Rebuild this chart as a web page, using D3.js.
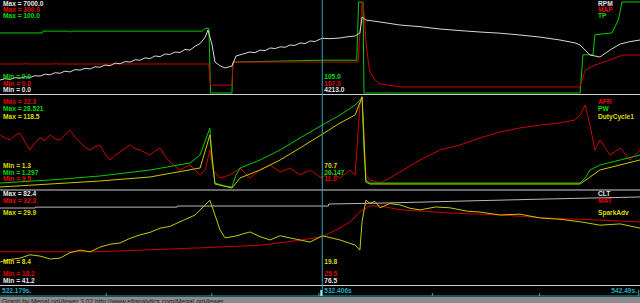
<!DOCTYPE html>
<html><head><meta charset="utf-8">
<script src="https://cdn.jsdelivr.net/npm/d3@7"></script>
<style>html,body{margin:0;padding:0;background:#000;overflow:hidden}</style>
</head><body><svg id="c" width="640" height="303"></svg>
<script>
// ---- time axis ----
const tStart = 522.179, tEnd = 542.49, tCursor = 532.406;
const timeLabels = ["522.179s.", "532.406s", "542.49s."];
const tickTimes = [525.55, 528.9, 532.3, 535.9, 539.3, 542.45];

// ---- top panel: RPM, MAP, TP ----
const rpm = [[522.18,1000],[522.34,1100],[522.50,1050],[522.66,1180],[522.81,1130],[522.97,1250],[523.13,1200],[523.29,1330],[523.45,1300],[523.61,1450],[523.77,1400],[523.93,1560],[524.08,1520],[524.24,1680],[524.40,1620],[524.56,1800],[524.72,1760],[524.88,1900],[525.04,1850],[525.20,2020],[525.35,1980],[525.51,2150],[525.67,2100],[525.83,2300],[525.99,2250],[526.15,2420],[526.31,2380],[526.47,2560],[526.62,2520],[526.78,2700],[526.94,2650],[527.10,2850],[527.26,2800],[527.42,3000],[527.57,2960],[527.73,3150],[527.89,3120],[528.05,3350],[528.21,3300],[528.37,3600],[528.53,3800],[528.69,4300],[528.78,4846],[528.91,3692],[529.00,2385],[529.16,2100],[529.32,1923],[529.54,2077],[529.67,2846],[530.11,3154],[530.27,3100],[530.43,3300],[530.59,3260],[530.75,3462],[530.91,3420],[531.07,3550],[531.23,3520],[531.38,3692],[531.54,3660],[531.70,3850],[531.86,3800],[532.02,4000],[532.18,3960],[532.34,4150],[532.41,4213],[532.65,4180],[532.97,4231],[533.13,4300],[533.45,4385],[533.60,4615],[533.67,5846],[533.79,5615],[534.24,5462],[534.87,5231],[535.51,5100],[536.14,4923],[536.78,4800],[537.41,4692],[538.05,4600],[538.68,4462],[539.32,4300],[539.95,4077],[540.43,3850],[540.59,3692],[540.90,2923],[541.22,2769],[541.54,3308],[541.86,3769],[542.17,3950],[542.49,4077]];
const map = [[522.18,95.6],[522.95,95.6],[523.00,99],[523.05,95.6],[523.90,95.6],[523.95,99],[524.00,95.6],[528.80,95.6],[528.86,26],[529.54,26],[529.57,102],[533.54,102],[533.67,300],[533.73,267],[533.79,175],[533.86,109],[533.92,69],[534.08,43],[534.24,30],[534.87,20],[540.59,20],[540.75,76],[541.06,92],[541.54,109],[541.92,125],[542.49,125]];
const tp = [[522.18,66],[523.52,66],[523.54,68],[524.35,68],[524.40,67],[524.45,68],[528.60,68],[528.69,71],[528.81,71],[528.86,0],[529.54,0],[529.57,34],[532.34,36],[533.50,36],[533.56,100],[533.70,100],[533.73,0],[540.59,0],[540.68,42],[541.00,42],[541.06,64],[541.60,66],[541.80,80],[541.92,100],[542.49,100]];

// ---- middle panel: AFR, PW, DutyCycle1 ----
const afr = [[522.18,16.96],[522.34,16.5],[522.50,16.25],[522.66,16.9],[522.81,17.24],[522.97,16.0],[523.13,14.85],[523.29,15.9],[523.45,16.54],[523.61,16.2],[523.77,16.96],[523.93,16.4],[524.08,16.25],[524.24,17.0],[524.40,17.66],[524.56,16.6],[524.72,15.97],[524.88,15.2],[525.04,14.85],[525.20,15.3],[525.35,15.55],[525.51,14.3],[525.67,13.44],[525.83,14.1],[525.99,14.57],[526.15,15.1],[526.31,15.55],[526.47,15.0],[526.62,14.85],[526.78,14.5],[526.94,14.14],[527.10,14.7],[527.26,15.13],[527.42,14.0],[527.57,13.16],[527.73,12.6],[527.89,12.03],[528.05,12.4],[528.21,12.74],[528.37,12.0],[528.53,11.33],[528.69,12.03],[528.84,14.85],[528.94,12.03],[529.16,10.91],[529.48,11.33],[529.80,12.31],[530.11,10.91],[530.43,12.03],[530.75,12.74],[531.07,11.75],[531.38,12.31],[531.70,11.33],[532.02,12.03],[532.34,11.05],[532.41,11.0],[532.65,11.75],[532.97,10.91],[533.29,12.03],[533.45,11.33],[533.60,21.18],[533.67,22.44],[533.79,11.33],[533.92,10.63],[534.24,10.20],[534.55,10.91],[534.87,11.75],[535.51,13.44],[536.14,14.85],[536.78,15.55],[537.41,16.54],[538.05,17.38],[538.68,17.94],[539.32,18.36],[539.95,18.65],[540.43,19.07],[540.59,19.77],[540.75,21.18],[540.90,18.36],[541.06,14.85],[541.22,16.25],[541.54,14.14],[541.86,15.13],[542.17,13.44],[542.49,14.85]];
const pw = [[522.18,2.79],[523.77,3.69],[525.35,4.89],[526.94,6.68],[528.21,8.78],[528.53,11.17],[528.84,19.25],[528.91,9.67],[529.00,2.79],[529.32,1.89],[529.54,1.60],[529.67,5.19],[529.80,7.28],[530.43,9.67],[531.07,12.67],[531.70,16.26],[532.41,20.147],[532.97,23.14],[533.45,26.13],[533.60,27.63],[533.67,28.52],[533.73,12.67],[533.79,3.69],[533.92,2.79],[540.59,2.79],[540.75,4.3],[540.90,6.68],[541.22,8.18],[541.86,9.67],[542.49,11.17]];
const duty = [[522.18,2.59],[523.77,6.45],[525.35,10.3],[526.94,15.5],[528.53,27.1],[528.84,69.6],[529.00,6.45],[529.54,1.3],[529.80,14.2],[530.43,24.5],[531.07,37.4],[531.70,52.8],[532.41,70.7],[532.97,85.0],[533.45,95.3],[533.67,118.5],[533.79,9.0],[533.92,6.45],[540.59,6.45],[541.22,24.5],[542.49,37.4]];

// ---- bottom panel: CLT, MAT, SparkAdv ----
const clt = [[522.18,75.6],[523.30,75.6],[523.31,76.0],[527.80,76.0],[527.81,76.5],[532.60,76.5],[532.61,77.4],[534.50,77.9],[537.00,78.8],[539.60,79.7],[542.49,80.6]];
const mat = [[522.18,23.2],[525.35,23.2],[528.53,23.8],[530.43,24.2],[531.70,25.0],[532.41,25.5],[532.97,26.9],[533.29,27.8],[533.60,29.4],[533.92,30.3],[534.24,30.3],[534.87,29.7],[536.46,29.2],[538.05,28.9],[539.63,28.4],[541.22,28.1],[542.49,27.8]];
const spark = [[522.18,13.6],[522.50,14.2],[522.81,14.5],[523.13,15.3],[523.45,15.0],[523.77,14.3],[524.08,14.5],[524.40,15.8],[524.72,16.4],[525.04,16.0],[525.35,17.1],[525.67,17.8],[525.99,18.1],[526.31,19.2],[526.62,20.0],[526.94,20.6],[527.26,21.6],[527.57,22.0],[527.89,23.1],[528.37,24.7],[528.69,27.1],[528.84,28.2],[529.00,24.7],[529.16,21.2],[529.32,19.3],[529.64,19.7],[530.11,20.7],[530.43,19.6],[530.75,18.8],[531.07,19.8],[531.38,19.3],[532.02,18.3],[532.41,19.8],[532.97,18.8],[533.45,17.6],[533.60,16.4],[533.67,23.1],[533.79,28.2],[533.92,27.5],[534.08,27.9],[534.24,26.4],[534.55,27.4],[534.87,27.1],[535.19,26.3],[535.51,25.9],[536.00,26.6],[536.46,26.4],[537.00,25.6],[537.41,25.4],[538.05,24.7],[538.68,24.9],[539.32,24.0],[539.95,23.7],[540.59,23.1],[541.22,22.3],[541.86,22.6],[542.49,21.6]];

// ---- labels ----
const topNames = ["RPM","MAP","TP"], topMax = ["7000.0","300.0","100.0"], topMin = ["0.0","0.0","0.0"], topCur = ["105.0","107.0","4213.0"];
const midNames = ["AFR","PW","DutyCycle1"], midMax = ["22.3","28.521","118.5"], midMin = ["1.3","1.297","9.5"], midCur = ["70.7","20.147","11.0"];
const botNames = ["CLT","MAT","SparkAdv"], botMax = ["82.4","32.3","29.9"], botMin = ["8.4","18.2","41.2"], botCur = ["19.8","25.5","76.5"];
const footer = "Graph by MegaLogViewer 3.02 http://www.efianalytics.com/MegaLogViewer";

const C = {white:"#d8d8d8", red:"#cc0000", green:"#00cc00", yellow:"#c8c800", redT:"#e00000", greenT:"#00dd00", yellowT:"#dddd00", whiteT:"#e8e8e8", cyan:"#2aa9bb"};

const svg = d3.select("#c");
svg.append("rect").attr("width",640).attr("height",303).attr("fill","#000");
const x = d3.scaleLinear().domain([tStart,tEnd]).range([0,640]);

const panels = [
  {y0:2, y1:93, clip:[0,94], series:[
    {d:tp, dom:[0,100], c:C.green},{d:map, dom:[0,300], c:C.red},{d:rpm, dom:[0,7000], c:C.white}]},
  {y0:97, y1:188, clip:[95,190], series:[
    {d:afr, dom:[9.5,22.3], c:C.red},{d:pw, dom:[1.297,28.521], c:C.green},{d:duty, dom:[1.3,118.5], c:C.yellow}]},
  {y0:193, y1:284, clip:[191,285], series:[
    {d:clt, dom:[41.2,82.4], c:"#b8b8b8"},{d:mat, dom:[18.2,32.3], c:C.red},{d:spark, dom:[8.4,29.9], c:C.yellow}]}
];
const defs = svg.append("defs");
panels.forEach((p,i)=>{
  defs.append("clipPath").attr("id","cp"+i).append("rect").attr("x",0).attr("y",p.clip[0]).attr("width",640).attr("height",p.clip[1]-p.clip[0]);
  const g = svg.append("g").attr("clip-path","url(#cp"+i+")");
  p.series.forEach(s=>{
    const y = d3.scaleLinear().domain(s.dom).range([p.y1,p.y0]);
    const line = d3.line().x(d=>x(d[0])).y(d=>y(d[1]));
    g.append("path").attr("d",line(s.d)).attr("fill","none").attr("stroke",s.c).attr("stroke-width",1);
  });
});

// separators
[94.5,190,285.5].forEach(yy=>svg.append("line").attr("x1",0).attr("x2",640).attr("y1",yy).attr("y2",yy).attr("stroke","#d0d0d0").attr("stroke-width",1.2));

// cursor
const xc = x(tCursor);
svg.append("line").attr("x1",xc).attr("x2",xc).attr("y1",0).attr("y2",296).attr("stroke",C.cyan).attr("stroke-width",1);

// text
const font = "'Liberation Sans', Arial, sans-serif";
function txt(s, xx, yy, col, anchor){
  svg.append("text").attr("x",xx).attr("y",yy).attr("fill",col).attr("font-family",font).attr("font-size",6.6).attr("font-weight","bold").attr("text-anchor",anchor||"start").text(s);
}
const topCols=[C.whiteT,C.redT,C.greenT], midCols=[C.redT,C.greenT,C.yellowT], botCols=[C.whiteT,C.redT,C.yellowT];
const topRows=[6.4,12.4,18.4], topMinRows=[79,85.6,92.2];
topNames.forEach((n,i)=>{ txt("Max = "+topMax[i],3,topRows[i],topCols[i]); txt(n,598,topRows[i],topCols[i]); });
[2,1,0].forEach((k,j)=>{ txt("Min = "+topMin[k],3,topMinRows[j],topCols[k]); });
[[topCur[0],C.greenT],[topCur[1],C.redT],[topCur[2],C.whiteT]].forEach((d,j)=>txt(d[0],xc+2,topMinRows[j],d[1]));

const midRows=[104.2,111.4,118.6], midMinRows=[167.8,174.5,181];
midNames.forEach((n,i)=>{ txt("Max = "+midMax[i],3,midRows[i],midCols[i]); txt(n,598,midRows[i],midCols[i]); });
[[midMin[0],C.yellowT],[midMin[1],C.greenT],[midMin[2],C.redT]].forEach((d,j)=>txt("Min = "+d[0],3,midMinRows[j],d[1]));
[[midCur[0],C.yellowT],[midCur[1],C.greenT],[midCur[2],C.redT]].forEach((d,j)=>txt(d[0],xc+2,midMinRows[j],d[1]));

const botRows=[196.3,203,215], botMinRows=[264,276,282.6];
botNames.forEach((n,i)=>{ txt("Max = "+botMax[i],3,botRows[i],botCols[i]); txt(n,598,botRows[i],botCols[i]); });
[[botMin[0],C.yellowT],[botMin[1],C.redT],[botMin[2],C.whiteT]].forEach((d,j)=>txt("Min = "+d[0],3,botMinRows[j],d[1]));
[[botCur[0],C.yellowT],[botCur[1],C.redT],[botCur[2],C.whiteT]].forEach((d,j)=>txt(d[0],xc+2,botMinRows[j],d[1]));

// time strip
svg.append("line").attr("x1",0).attr("x2",640).attr("y1",296).attr("y2",296).attr("stroke",C.cyan).attr("stroke-width",1);
tickTimes.forEach(t=>svg.append("line").attr("x1",x(t)).attr("x2",x(t)).attr("y1",296).attr("y2",t>542?290:293).attr("stroke",C.cyan));
svg.append("rect").attr("x",xc-2).attr("y",290).attr("width",2).attr("height",6).attr("fill","#8ee8f0");
txt(timeLabels[0],2,292.7,C.cyan);
txt(timeLabels[1],xc+2,292.7,C.cyan);
txt(timeLabels[2],637,292.7,C.cyan,"end");

// footer
svg.append("rect").attr("x",0).attr("y",297).attr("width",640).attr("height",6).attr("fill","#8c8c8c");
svg.append("text").attr("x",2).attr("y",303.5).attr("fill","#202020").attr("font-family",font).attr("font-size",6.6).text(footer);
</script></body></html>
